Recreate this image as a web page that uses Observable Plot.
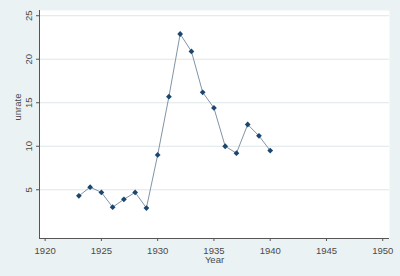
<!DOCTYPE html>
<html>
<head>
<meta charset="utf-8">
<script src="https://cdn.jsdelivr.net/npm/d3@7"></script>
<script src="https://cdn.jsdelivr.net/npm/@observablehq/plot@0.6"></script>
<style>
  html, body { margin: 0; padding: 0; background: #eaf2f3; }
  #chart svg { display: block; }
</style>
</head>
<body>
<div id="chart"></div>
<script>
const years = [1923, 1924, 1925, 1926, 1927, 1928, 1929, 1930, 1931, 1932, 1933, 1934, 1935, 1936, 1937, 1938, 1939, 1940];
const unrate = [4.3, 5.3, 4.7, 3.0, 3.9, 4.7, 2.9, 9.0, 15.7, 22.9, 20.9, 16.2, 14.4, 10.0, 9.2, 12.5, 11.2, 9.5];
const xTicks = [1920, 1925, 1930, 1935, 1940, 1945, 1950];
const yTicks = [5, 10, 15, 20, 25];
const xLabel = "Year";
const yLabel = "unrate";

const data = years.map((year, i) => ({year, unrate: unrate[i]}));

const xDomain = [1919.5, 1950.6];
const yDomain = [-0.6, 25.6];
const textColor = "#4a4a4a";
const font = "'Liberation Sans', Arial, sans-serif";

const chart = Plot.plot({
  width: 400,
  height: 276,
  marginLeft: 39,
  marginRight: 11,
  marginTop: 10,
  marginBottom: 38,
  style: {background: "#eaf2f3", fontFamily: font, fontSize: "9.5px", color: textColor},
  x: {domain: xDomain},
  y: {domain: yDomain},
  marks: [
    Plot.frame({fill: "white", stroke: null}),
    Plot.gridY(yTicks, {stroke: "#dde6e9", strokeOpacity: 1}),
    Plot.ruleX([xDomain[0]], {stroke: "#555"}),
    Plot.ruleY([yDomain[0]], {stroke: "#555"}),
    Plot.axisY(yTicks, {tickSize: 3, tickFormat: () => "", label: null, stroke: "#555"}),
    Plot.text(yTicks, {y: d => d, frameAnchor: "left", textAnchor: "middle", lineAnchor: "middle", rotate: -90, dx: -11, text: d => String(d), fill: textColor, fontSize: 9.5}),
    Plot.axisX(xTicks, {tickSize: 3, tickPadding: 6, label: null, tickFormat: d => String(d), stroke: "#555", fill: textColor, fontSize: 9.5}),
    Plot.text([xLabel], {frameAnchor: "bottom", lineAnchor: "middle", dy: 21, text: d => d, fill: textColor, fontSize: 9.5}),
    Plot.text([yLabel], {frameAnchor: "left", dx: -22, dy: -4, rotate: -90, text: d => d, fill: textColor, fontSize: 9.5}),
    Plot.line(data, {x: "year", y: "unrate", stroke: "#8294a6", strokeWidth: 1}),
    Plot.dot(data, {x: "year", y: "unrate", symbol: "square", rotate: 45, r: 2.3, fill: "#1a476f", stroke: null})
  ]
});
document.getElementById("chart").appendChild(chart);
</script>
</body>
</html>
